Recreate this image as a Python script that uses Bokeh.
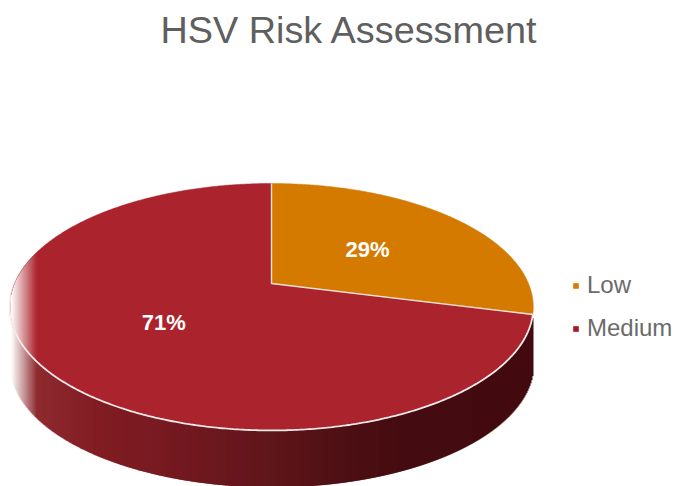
import numpy as np
from bokeh.embed import file_html
from bokeh.resources import INLINE
from bokeh.plotting import figure
from bokeh.models import Title, Legend, LegendItem
from bokeh.core.properties import value

categories = ["Low", "Medium"]
values = [29, 71]
labels = ["29%", "71%"]
top_colors = ["#D47A00", "#AB232C"]
legend_colors = ["#D67A00", "#A81822"]
title_text = "HSV Risk Assessment"

W, H = 686, 486
TITLE_H = 50
FONT = "Liberation Sans"

# pie geometry in page pixels
APEX_X, APEX_Y = 271, 283
SCALE_X, SCALE_Y, PERSP = 257, 119, 0.19
DEPTH = 57
SIDE_STOPS_X = [8, 30, 100, 150, 270, 340, 400, 540]
SIDE_STOPS = [(0x8E, 0x2C, 0x30), (0x8E, 0x2C, 0x30), (0x80, 0x1C, 0x22), (0x7A, 0x1A, 0x22),
              (0x5F, 0x16, 0x1A), (0x4E, 0x10, 0x14), (0x45, 0x0C, 0x10), (0x42, 0x0B, 0x0F)]


def project(deg, frac=1.0):
    a = np.radians(deg)
    u, v = frac * np.sin(a), frac * np.cos(a)
    d = 1 + PERSP * v
    return APEX_X + SCALE_X * u / d, APEX_Y - SCALE_Y * v / d


def hexc(rgb):
    return "#%02x%02x%02x" % tuple(int(round(c)) for c in rgb)


def mix(rgb, t):
    return tuple(c + (255 - c) * t for c in rgb)


p = figure(width=W, height=H, output_backend="svg", toolbar_location=None,
           x_range=(0, W), y_range=(H, TITLE_H),
           min_border=0, min_border_left=0, min_border_right=0,
           min_border_top=TITLE_H, min_border_bottom=0, outline_line_color=None)
p.axis.visible = False
p.grid.visible = False
p.add_layout(Title(text=title_text, text_font=FONT, text_font_size="37.8px",
                   text_font_style="normal", text_color="#5f5f5f", align="left",
                   offset=160, standoff=0), "above")

# silhouette of the disc
ring = np.arange(0, 360.01, 0.25)
rx, ry = project(ring)
i_min, i_max = int(np.argmin(rx)), int(np.argmax(rx))
front = np.arange(i_max, i_min + 1)
back = np.r_[i_min:len(ring), 0:i_max + 1]
fx, fy = rx[front], ry[front]
order = np.argsort(fx)
fx, fy = fx[order], fy[order]
bx, by = rx[back], ry[back]
order = np.argsort(bx)
bx, by = bx[order], by[order]

# side wall, drawn as overlapping vertical strips
xs = np.arange(np.ceil(rx.min()), np.floor(rx.max()), 1.0)
lows = np.interp(xs + 0.5, fx, fy)
st = np.array(SIDE_STOPS, dtype=float)
side = []
for x in xs:
    rgb = [np.interp(x, SIDE_STOPS_X, st[:, k]) for k in range(3)]
    fade = np.clip((36 - x) / 26, 0, 1)
    side.append(hexc(mix(rgb, fade)))
p.quad(left=xs, right=xs + 2, top=lows - 1, bottom=lows + DEPTH, fill_color=side, fill_alpha=1, line_color=None)

# top surface
starts = np.cumsum([0] + values[:-1]) * 3.6
spans = np.array(values) * 3.6
renderers = []
for s, w, c in zip(starts, spans, top_colors):
    a = np.arange(s, s + w + 0.01, 0.5)
    ex, ey = project(a)
    p.patch(np.r_[APEX_X, ex], np.r_[APEX_Y, ey], fill_color=c, line_color=c, line_width=0.5)

# fade on the left of the top surface
lx = xs[xs < 36]
ups = np.interp(lx + 0.5, bx, by)
lws = np.interp(lx + 0.5, fx, fy)
base = tuple(int(top_colors[1][i:i + 2], 16) for i in (1, 3, 5))
fc = [hexc(mix(base, np.clip((36 - x) / 26, 0, 1))) for x in lx]
p.quad(left=lx, right=lx + 2, top=ups, bottom=lws, fill_color=fc, fill_alpha=1, line_color=None)

# white separators
bx0, by0 = project(starts[1])
tx0, ty0 = project(0.0)
p.line([tx0, APEX_X, bx0], [ty0, APEX_Y, by0], line_color="#F4E4D8", line_width=1.4)
fa = np.arange(starts[1], 264, 0.5)
ax, ay = project(fa)
p.line(ax, ay, line_color="#F6ECEC", line_width=1.8)

# data labels
mids = starts + spans / 2
tx, ty = project(mids, 0.5)
p.text(tx, ty, text=labels, text_color="white", text_font=value(FONT), text_font_style="bold",
       text_font_size="22px", text_align="center", text_baseline="middle")

# legend
for c in legend_colors:
    renderers.append(p.quad(left=[np.nan], right=[np.nan], top=[np.nan], bottom=[np.nan], fill_color=c, line_color=None))
legend = Legend(items=[LegendItem(label=n, renderers=[r]) for n, r in zip(categories, renderers)],
                location=(572, 144), orientation="vertical", background_fill_alpha=0, border_line_color=None,
                label_text_font=FONT, label_text_font_size="24px", label_text_color="#6b6b6b",
                glyph_width=7, glyph_height=7, label_standoff=8, spacing=15, padding=0, margin=0)
p.add_layout(legend, "center")

open("out.html", "w").write(file_html(p, INLINE))
